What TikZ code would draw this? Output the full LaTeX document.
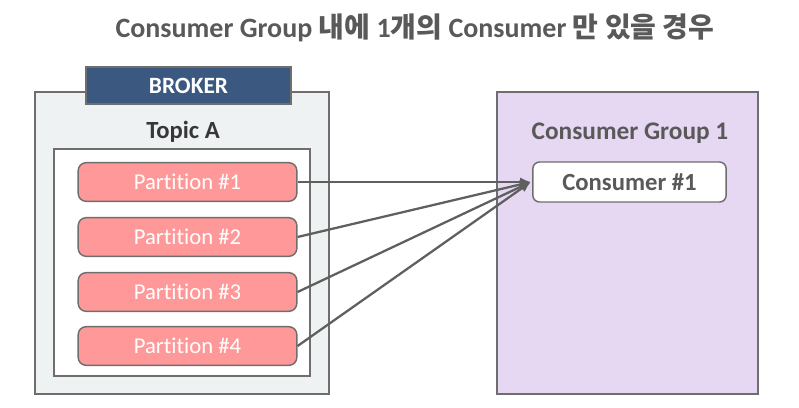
\documentclass[tikz,border=0pt]{standalone}
\usepackage{fontspec}
\setmainfont{Carlito}[Ligatures=CommonOff]
\newfontfamily\krfont{Noto Sans CJK KR}
\usepackage{tikz}
\usetikzlibrary{arrows.meta, positioning}
\definecolor{myframe}{RGB}{110,110,110}
\definecolor{mybox}{RGB}{239,242,243}
\definecolor{myblue}{RGB}{59,89,128}
\definecolor{mypink}{RGB}{255,153,153}
\definecolor{mylilac}{RGB}{230,215,242}
\definecolor{mytext}{RGB}{89,89,89}
\definecolor{mydark}{RGB}{55,55,55}
\definecolor{myarrow}{RGB}{95,95,95}
\tikzset{
  partnode/.style={rectangle, draw=myframe, fill=mypink,
    minimum width=164pt, minimum height=29pt, rounded corners=6pt,
    line width=1.1pt, text=white, font=\fontsize{17}{20}\selectfont},
  consnode/.style={rectangle, draw=myframe, fill=white,
    minimum width=145pt, minimum height=30pt, rounded corners=5pt,
    line width=1.1pt, text=mytext, font=\fontsize{18.5}{22}\selectfont\bfseries},
  arrow/.style={-{Latex[length=8pt,width=7pt]}, line width=1.7pt, color=myarrow},
  frame/.style={line width=1.1pt, draw=myframe}
}
\begin{document}
\begin{tikzpicture}[x=0.75pt, y=-0.75pt]
  \useasboundingbox (0,0) rectangle (799,407);

  % Title
  \node[font=\fontsize{21}{25}\selectfont\bfseries, text=mytext] (title) at (415,28)
    {Consumer Group {\krfont 내에} 1{\krfont 개의} Consumer {\krfont 만 있을 경우}};

  % Broker
  \draw[frame, fill=mybox] (35,92) rectangle (329,394);
  \node[frame, fill=myblue, minimum width=153.75pt, minimum height=27.75pt,
    text=white, font=\fontsize{17.5}{21}\selectfont\bfseries] (broker) at (188.5,85.5) {BROKER};
  \node[text=mydark, font=\fontsize{18.5}{22}\selectfont\bfseries] (topic) at (183,132) {Topic A};
  \draw[frame, fill=white] (54,149) rectangle (310,376);

  % Partitions
  \foreach \i/\y in {1/182, 2/237, 3/292, 4/346}
    \node[partnode] (part\i) at (187.5,\y) {Partition \#\i};

  % Consumer group
  \draw[frame, fill=mylilac] (497,92) rectangle (758,394);
  \node[text=mytext, font=\fontsize{19}{23}\selectfont\bfseries] (group) at (630,133) {Consumer Group 1};
  \node[consnode] (cons) at (629.5,182) {Consumer \#1};

  % Arrows
  \foreach \i in {1,...,4}
    \draw[arrow] (part\i.east) -- ([xshift=-1pt]cons.west);
\end{tikzpicture}
\end{document}
